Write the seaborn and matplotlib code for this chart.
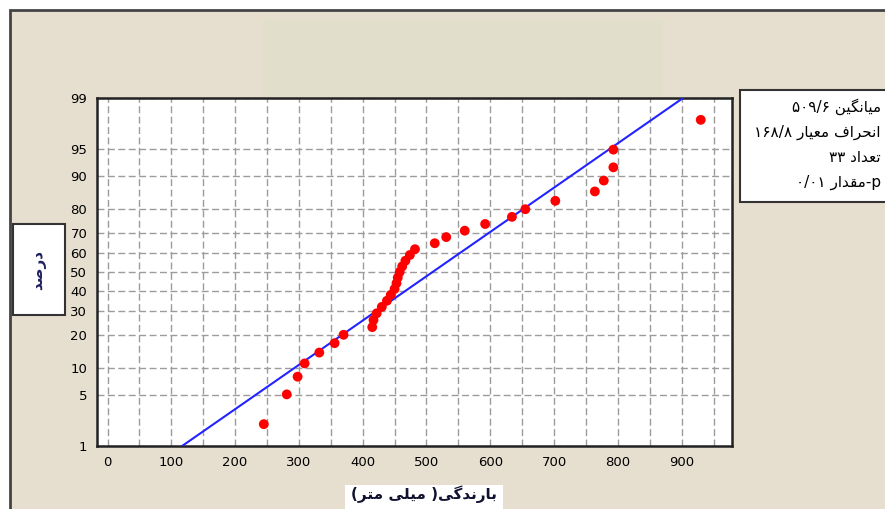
import re
from statistics import NormalDist
import numpy as np
import matplotlib
matplotlib.use("Agg")
import matplotlib.pyplot as plt
from matplotlib.patches import Rectangle
from matplotlib.ticker import MultipleLocator, NullLocator
import seaborn as sns

# rainfall values (mm), sorted
barandegi = [245, 281, 298, 309, 332, 356, 370,
             415, 417, 422, 430, 438, 444, 450, 453, 455, 458, 462, 467, 474, 482,
             513, 531, 560, 592, 634, 655, 702, 764, 778, 793, 793, 930]
miangin = 509.6
enheraf = 168.8
tedad = 33
y_ticks = [1, 5, 10, 20, 30, 40, 50, 60, 70, 80, 90, 95, 99]
x_ticks = [0, 100, 200, 300, 400, 500, 600, 700, 800, 900]
legend_lines = ["میانگین ۵۰۹/۶", "انحراف معیار ۱۶۸/۸", "تعداد ۳۳", "p-مقدار ۰/۰۱"]
x_label = "بارندگی( میلی متر)"
y_label = "درصد"

# minimal arabic/persian shaping (matplotlib has no bidi/shaping)
FORMS = {
    "ا": ("\uFE8D", "\uFE8E", None, None),
    "ب": ("\uFE8F", "\uFE90", "\uFE91", "\uFE92"),
    "ت": ("\uFE95", "\uFE96", "\uFE97", "\uFE98"),
    "ح": ("\uFEA1", "\uFEA2", "\uFEA3", "\uFEA4"),
    "د": ("\uFEA9", "\uFEAA", None, None),
    "ر": ("\uFEAD", "\uFEAE", None, None),
    "ص": ("\uFEB9", "\uFEBA", "\uFEBB", "\uFEBC"),
    "ع": ("\uFEC9", "\uFECA", "\uFECB", "\uFECC"),
    "ف": ("\uFED1", "\uFED2", "\uFED3", "\uFED4"),
    "ق": ("\uFED5", "\uFED6", "\uFED7", "\uFED8"),
    "ل": ("\uFEDD", "\uFEDE", "\uFEDF", "\uFEE0"),
    "م": ("\uFEE1", "\uFEE2", "\uFEE3", "\uFEE4"),
    "ن": ("\uFEE5", "\uFEE6", "\uFEE7", "\uFEE8"),
    "گ": ("\uFB92", "\uFB93", "\uFB94", "\uFB95"),
    "ی": ("\uFBFC", "\uFBFD", "\uFBFE", "\uFBFF"),
}


def fa(s):
    out = []
    for i, ch in enumerate(s):
        if ch not in FORMS:
            out.append(ch)
            continue
        iso, fin, ini, med = FORMS[ch]
        prev = s[i - 1] if i > 0 else ""
        nxt = s[i + 1] if i + 1 < len(s) else ""
        jp = prev in FORMS and FORMS[prev][2] is not None
        jn = nxt in FORMS and ini is not None
        if jp and jn:
            out.append(med)
        elif jp:
            out.append(fin)
        elif jn:
            out.append(ini)
        else:
            out.append(iso)
    vis = "".join(out)[::-1]
    vis = vis.translate(str.maketrans("()", ")("))
    vis = re.sub(r"[0-9۰-۹/A-Za-z.]+", lambda m: m.group(0)[::-1], vis)
    return vis


nd = NormalDist()


def _probit(p):
    if p != p:
        return np.nan
    return nd.inv_cdf(min(max(p, 1e-6), 100 - 1e-6) / 100)


def _unprobit(z):
    if z != z:
        return np.nan
    return nd.cdf(z) * 100


fwd = np.vectorize(_probit, otypes=[float])
inv = np.vectorize(_unprobit, otypes=[float])

darsad = [(i - 0.3) / (tedad + 0.4) * 100 for i in range(1, tedad + 1)]
fit = NormalDist(miangin, enheraf)
line_p = [1, 99]
line_x = [fit.inv_cdf(p / 100) for p in line_p]

sns.set_style("white")
plt.rcParams["font.family"] = ["DejaVu Sans"]

fig = plt.figure(figsize=(8.85, 5.09), dpi=100, facecolor="white")
fig.patches.append(Rectangle((10 / 885, -0.1), 1.1, 1.1 - 10 / 509,
                             transform=fig.transFigure, facecolor="#E6DFCF",
                             edgecolor="#444444", lw=2, zorder=-2))
fig.patches.append(Rectangle((263 / 885, 1 - 97 / 509), 400 / 885, 77 / 509,
                             transform=fig.transFigure, facecolor="#E1DECB",
                             edgecolor="none", zorder=-1))

ax = fig.add_axes([97 / 885, 1 - 446 / 509, (732 - 97) / 885, (446 - 98) / 509])
ax.set_zorder(2)
ax.set_facecolor("white")
ax.set_yscale("function", functions=(fwd, inv))

sns.lineplot(x=line_x, y=line_p, color="#2323ff", lw=1.5, ax=ax, zorder=3)
sns.scatterplot(x=barandegi, y=darsad, color="#ff0000", s=50, edgecolor="none",
                ax=ax, zorder=4)

ax.set_xlim(-16.5, 979)
ax.set_ylim(1, 99)
ax.set_xticks(x_ticks)
ax.xaxis.set_minor_locator(MultipleLocator(50))
ax.set_yticks(y_ticks)
ax.set_yticklabels([str(v) for v in y_ticks])
ax.yaxis.set_minor_locator(NullLocator())
ax.tick_params(axis="both", which="major", direction="out", length=5, width=1.2,
               labelsize=9.5, colors="black", pad=2)
ax.tick_params(axis="x", which="minor", length=0)
ax.xaxis.grid(True, which="both", color="#9c9c9c", lw=1, linestyle=(0, (5, 2.5)))
ax.yaxis.grid(True, which="major", color="#9c9c9c", lw=1, linestyle=(0, (5, 2.5)))
ax.set_axisbelow(True)
for sp in ax.spines.values():
    sp.set_visible(True)
    sp.set_color("#222222")
    sp.set_linewidth(1.8)
ax.set_xlabel("")
ax.set_ylabel("")

# legend box at the right
fig.patches.append(Rectangle((740 / 885, 1 - 202 / 509), 0.3, 112 / 509,
                             transform=fig.transFigure, facecolor="white",
                             edgecolor="#333333", lw=1.5, zorder=1))
for k, t in enumerate(legend_lines):
    fig.text(881 / 885, 1 - (107 + 25 * k) / 509, fa(t), ha="right", va="center",
             fontsize=11, color="black")

# y label box
fig.patches.append(Rectangle((13 / 885, 1 - 315 / 509), 52 / 885, 91 / 509,
                             transform=fig.transFigure, facecolor="white",
                             edgecolor="#333333", lw=1.5, zorder=1))
fig.text(39 / 885, 1 - 270 / 509, fa(y_label), rotation=90, ha="center", va="center",
         fontsize=11, fontweight="bold", color="#202060")

# x label box
fig.patches.append(Rectangle((345 / 885, -0.05), 158 / 885, 24 / 509 + 0.05,
                             transform=fig.transFigure, facecolor="white",
                             edgecolor="none", zorder=1))
fig.text(424 / 885, 1 - 494 / 509, fa(x_label), ha="center", va="center",
         fontsize=11, fontweight="bold", color="#101030")

fig.savefig("out.png", dpi=100, facecolor=fig.get_facecolor())
